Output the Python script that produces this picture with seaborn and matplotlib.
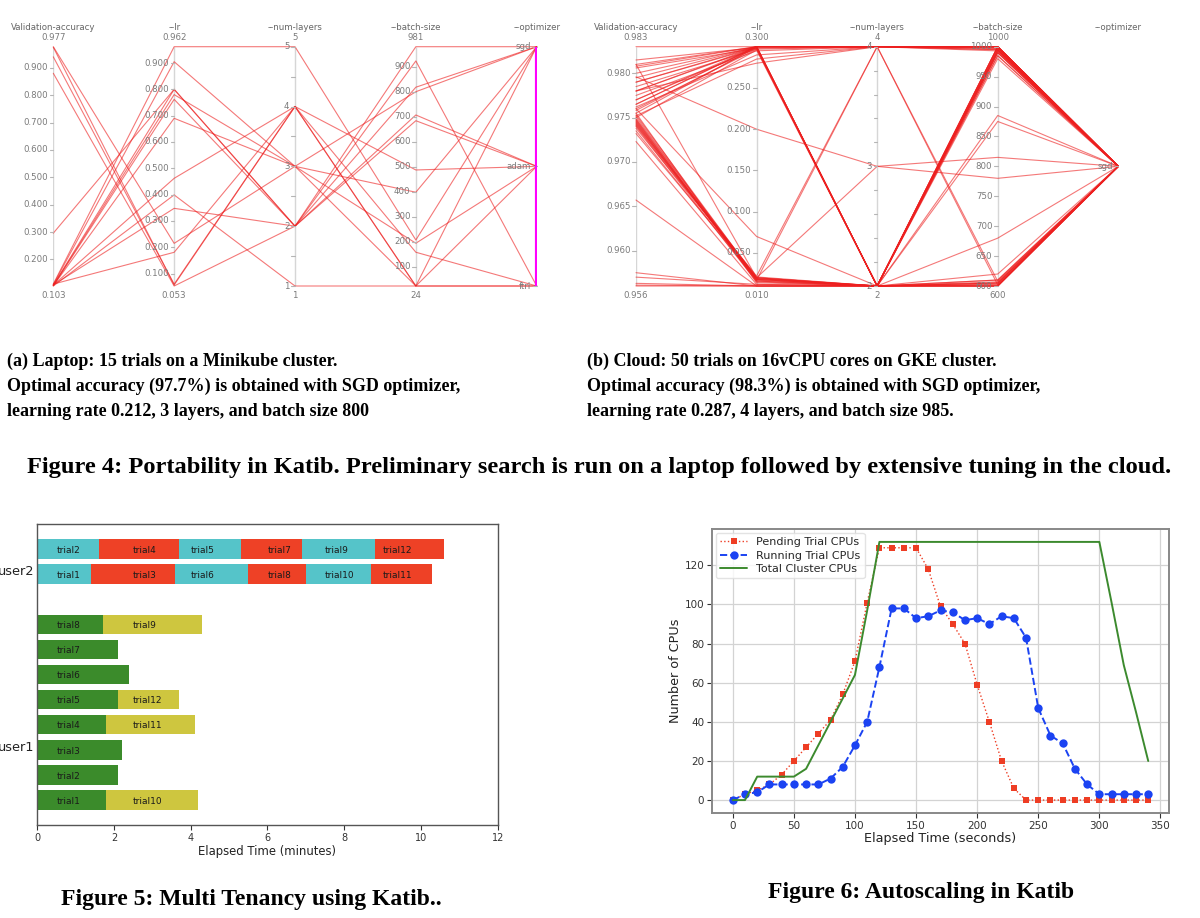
import numpy as np
import pandas as pd
import matplotlib
matplotlib.use('Agg')
import matplotlib.pyplot as plt
import seaborn as sns

sns.set_theme(style='white')
plt.rcParams['font.family'] = ['DejaVu Sans']

W, H = 1200, 918

# Figure 4 (a): laptop, 15 trials
a_acc = [0.977, 0.975, 0.940, 0.880, 0.296, 0.110, 0.108, 0.106, 0.105, 0.104,
         0.104, 0.106, 0.103, 0.107, 0.110]
a_lr = [0.215, 0.057, 0.060, 0.053, 0.800, 0.962, 0.905, 0.800, 0.780, 0.762,
        0.690, 0.462, 0.399, 0.348, 0.181]
a_layers = [3, 4, 4, 2, 2, 5, 3, 2, 3, 2, 3, 4, 1, 2, 4]
a_batch = [801, 159, 24, 924, 981, 208, 24, 685, 399, 708, 195, 488, 24, 819, 24]
a_opt = ['sgd', 'ftrl', 'adam', 'ftrl', 'sgd', 'sgd', 'ftrl', 'adam', 'sgd', 'adam',
         'adam', 'adam', 'sgd', 'sgd', 'ftrl']

# Figure 4 (b): cloud, 50 trials
b_acc = [0.983, 0.9815, 0.9810, 0.9806, 0.9800, 0.9785, 0.9780, 0.9775, 0.9770, 0.9780,
         0.9808, 0.9790, 0.9790, 0.9780, 0.9770, 0.9765, 0.9760, 0.9755, 0.9750, 0.9752,
         0.9762, 0.9751, 0.9749, 0.9748, 0.9746, 0.9745, 0.9743, 0.9742, 0.9740, 0.9738,
         0.9735, 0.9732, 0.9810, 0.9723, 0.9657, 0.9760, 0.9796, 0.9575, 0.9570, 0.9563,
         0.9561, 0.9560, 0.9753, 0.9744, 0.9755, 0.9795, 0.9765, 0.9747, 0.9741, 0.9758]
b_lr = [0.300, 0.299, 0.300, 0.298, 0.300, 0.297, 0.300, 0.295, 0.300, 0.280,
        0.300, 0.299, 0.300, 0.299, 0.298, 0.300, 0.297, 0.300, 0.296, 0.285,
        0.290, 0.018, 0.020, 0.017, 0.019, 0.016, 0.021, 0.018, 0.015, 0.022,
        0.017, 0.020, 0.020, 0.012, 0.010, 0.070, 0.200, 0.010, 0.012, 0.010,
        0.010, 0.010, 0.019, 0.018, 0.014, 0.300, 0.300, 0.016, 0.020, 0.299]
b_layers = [4, 4, 4, 4, 4, 4, 4, 4, 4, 4,
            2, 2, 2, 2, 2, 2, 2, 2, 2, 4,
            4, 2, 2, 2, 2, 2, 2, 2, 2, 4,
            4, 3, 2, 2, 2, 2, 3, 2, 2, 2,
            2, 2, 2, 2, 2, 4, 2, 2, 2, 2]
b_batch = [1000, 998, 995, 1000, 1000, 997, 1000, 993, 1000, 995,
           995, 990, 1000, 995, 985, 1000, 980, 605, 610, 602,
           608, 990, 1000, 985, 995, 605, 600, 610, 603, 998,
           1000, 815, 885, 875, 620, 680, 780, 600, 602, 605,
           600, 990, 1000, 600, 993, 1000, 600, 998, 607, 992]
b_opt = ['sgd'] * 50

# Figure 5: multi tenancy, end time (minutes) of each trial in a row
u1_names = [['trial1', 'trial10'], ['trial2'], ['trial3'], ['trial4', 'trial11'],
            ['trial5', 'trial12'], ['trial6'], ['trial7'], ['trial8', 'trial9']]
u1_ends = [[1.8, 4.2], [2.1], [2.2], [1.8, 4.1], [2.1, 3.7], [2.4], [2.1], [1.7, 4.3]]
u2_names = [['trial1', 'trial3', 'trial6', 'trial8', 'trial10', 'trial11'],
            ['trial2', 'trial4', 'trial5', 'trial7', 'trial9', 'trial12']]
u2_ends = [[1.4, 3.6, 5.5, 7.0, 8.7, 10.3],
           [1.6, 3.7, 5.3, 6.9, 8.8, 10.6]]

# Figure 6: autoscaling
t_sec = [0, 10, 20, 30, 40, 50, 60, 70, 80, 90, 100, 110, 120, 130, 140, 150, 160, 170,
         180, 190, 200, 210, 220, 230, 240, 250, 260, 270, 280, 290, 300, 310, 320, 330, 340]
pending = [0, 3, 5, 8, 13, 20, 27, 34, 41, 54, 71, 101, 129, 129, 129, 129, 118, 99,
           90, 80, 59, 40, 20, 6, 0, 0, 0, 0, 0, 0, 0, 0, 0, 0, 0]
running = [0, 3, 4, 8, 8, 8, 8, 8, 11, 17, 28, 40, 68, 98, 98, 93, 94, 97,
           96, 92, 93, 90, 94, 93, 83, 47, 33, 29, 16, 8, 3, 3, 3, 3, 3]
total = [0, 0, 12, 12, 12, 12, 16, 28, 40, 52, 64, 97, 132, 132, 132, 132, 132, 132,
         132, 132, 132, 132, 132, 132, 132, 132, 132, 132, 132, 132, 132, 101, 69, 45, 20]


def box(x0, y0, x1, y1):
    return [x0 / W, 1 - y1 / H, (x1 - x0) / W, (y1 - y0) / H]


def par_coords(ax, cols, names, fmts, ticks, minor, opt_vals, opt_levels, opt_bar):
    n = len(opt_vals)
    pos = {}
    for i, v in enumerate(cols):
        v = np.asarray(v, float)
        pos[i] = (v - v.min()) / (v.max() - v.min())
    k = len(cols)
    if len(opt_levels) > 1:
        pos[k] = [1 - opt_levels.index(o) / (len(opt_levels) - 1) for o in opt_vals]
    else:
        pos[k] = [0.5] * n
    df = pd.DataFrame(pos)
    df['trial'] = range(n)
    long = df.melt(id_vars='trial', var_name='axis', value_name='pos')
    long['axis'] = long['axis'].astype(int)
    sns.lineplot(data=long, x='axis', y='pos', units='trial', estimator=None,
                 color=(0.93, 0.12, 0.12), alpha=0.6, lw=0.8, ax=ax, legend=False)
    for ln in ax.lines:
        ln.set_clip_on(False)

    tc, lc = '#b5b5b5', '#7a7a7a'
    for i, v in enumerate(cols):
        lo, hi = min(v), max(v)
        ax.vlines(i, 0, 1, color='#d6d6d6', lw=1, zorder=0)
        for tv in ticks[i]:
            p = (tv - lo) / (hi - lo)
            ax.plot([i - 0.03, i], [p, p], color=tc, lw=0.8, clip_on=False)
            ax.text(i - 0.045, p, fmts[i] % tv, ha='right', va='center',
                    fontsize=6.2, color=lc)
        for tv in minor[i]:
            p = (tv - lo) / (hi - lo)
            ax.plot([i - 0.03, i], [p, p], color=tc, lw=0.8, clip_on=False)
        ax.text(i, 1.039, fmts[i] % hi, ha='center', va='center', fontsize=6.2, color=lc)
        ax.text(i, -0.039, fmts[i] % lo, ha='center', va='center', fontsize=6.2, color=lc)
    for i, nm in enumerate(names):
        ax.text(i, 1.082, nm, ha='center', va='center', fontsize=6.2, color='#666666')
    for lev in opt_levels:
        p = pos[k][opt_vals.index(lev)]
        ax.plot([k - 0.03, k], [p, p], color=tc, lw=0.8, clip_on=False)
        ax.text(k - 0.045, p, lev, ha='right', va='center', fontsize=6.2, color=lc)
    if opt_bar:
        ax.vlines(k, 0, 1, color='#ff00ff', lw=3, zorder=5)
    ax.set_xlim(0, k)
    ax.set_ylim(0, 1)
    ax.axis('off')


names = ['Validation-accuracy', '--lr', '--num-layers', '--batch-size', '--optimizer']
fmts = ['%.3f', '%.3f', '%d', '%d']

fig = plt.figure(figsize=(W / 100, H / 100), dpi=100)

ax_a = fig.add_axes(box(53.3, 46.7, 536.7, 286))
par_coords(ax_a, [a_acc, a_lr, a_layers, a_batch], names, fmts,
           [np.arange(0.2, 0.95, 0.1), np.arange(0.1, 0.95, 0.1), [1, 2, 3, 4, 5],
            np.arange(100, 950, 100)],
           [[], [], [1.5, 2.5, 3.5, 4.5], []],
           a_opt, ['sgd', 'adam', 'ftrl'], True)

ax_b = fig.add_axes(box(636, 46.7, 1118.3, 286))
par_coords(ax_b, [b_acc, b_lr, b_layers, b_batch], names, fmts,
           [np.arange(0.960, 0.9815, 0.005), np.arange(0.05, 0.26, 0.05), [2, 3, 4],
            np.arange(600, 1001, 50)],
           [[], [], [2.2, 2.4, 2.6, 2.8, 3.2, 3.4, 3.6, 3.8], []],
           b_opt, ['sgd'], False)

# Figure 5
ax5 = fig.add_axes(box(37.3, 524, 497.7, 825))
green, olive = '#3b8b2b', '#cec63f'
cyan, red = '#55c4c9', '#ee4126'
label_x = [0.5, 2.5, 4.0, 6.0, 7.5, 9.0]
rows = [(i, u1_names[i], u1_ends[i], [green, olive]) for i in range(8)]
rows += [(9 + i, u2_names[i], u2_ends[i], [cyan, red, cyan, red, cyan, red]) for i in range(2)]
for y, nms, ends, cols in rows:
    starts = [0] + ends[:-1]
    widths = [e - s for s, e in zip(starts, ends)]
    ax5.barh([y] * len(ends), widths, left=starts, height=0.78,
             color=cols[:len(ends)], edgecolor='none')
    for nm, lx in zip(nms, label_x):
        ax5.text(lx, y - 0.05, nm, fontsize=6.5, va='center', color='#1a1a1a')
ax5.set_xlim(0, 12)
ax5.set_ylim(-1, 11)
ax5.set_xticks(range(0, 13, 2))
ax5.set_yticks([2.15, 9.15], ['user1', 'user2'])
ax5.tick_params(axis='x', labelsize=7, length=3.5, width=0.8, colors='#333333', pad=2, bottom=True)
ax5.tick_params(axis='y', labelsize=9.3, length=0, pad=2, colors='#222222')
ax5.set_xlabel('Elapsed Time (minutes)', fontsize=8.4, color='#222222', labelpad=2)
for s in ax5.spines.values():
    s.set_color('#555555')
    s.set_linewidth(1)

# Figure 6
ax6 = fig.add_axes(box(712, 529, 1169, 813))
sns.lineplot(x=t_sec, y=pending, ax=ax6, color='#ee3d24', linestyle=':', lw=1,
             marker='s', markersize=5, markeredgewidth=0, label='Pending Trial CPUs')
sns.lineplot(x=t_sec, y=running, ax=ax6, color='#1b43f2', linestyle='--', lw=1.4,
             marker='o', markersize=6, markeredgewidth=0, label='Running Trial CPUs')
sns.lineplot(x=t_sec, y=total, ax=ax6, color='#3c8a2e', lw=1.4, label='Total Cluster CPUs')
ax6.set_xticks(range(0, 351, 50))
ax6.set_yticks(range(0, 121, 20))
ax6.grid(True, color='#d3d3d3', lw=0.9)
ax6.tick_params(labelsize=7.5, length=3.5, width=0.8, colors='#333333', pad=2,
                bottom=True, left=True)
ax6.set_xlabel('Elapsed Time (seconds)', fontsize=9.2, color='#222222', labelpad=1)
ax6.set_ylabel('Number of CPUs', fontsize=9.2, color='#222222', labelpad=2)
for s in ax6.spines.values():
    s.set_color('#888888')
    s.set_linewidth(1.4)
leg = ax6.legend(loc='upper left', fontsize=8, frameon=True, borderaxespad=0.35,
                 handlelength=2.4, labelspacing=0.3, borderpad=0.4)
leg.get_frame().set_edgecolor('#dddddd')

# captions
cap = dict(family='Liberation Serif', weight='bold', color='black', va='center')
fig.text(7 / W, 1 - 361.7 / H, '(a) Laptop: 15 trials on a Minikube cluster.', fontsize=13, **cap)
fig.text(7 / W, 1 - 386.7 / H, 'Optimal accuracy (97.7%) is obtained with SGD optimizer,', fontsize=13, **cap)
fig.text(7 / W, 1 - 411.7 / H, 'learning rate 0.212, 3 layers, and batch size 800', fontsize=13, **cap)
fig.text(587 / W, 1 - 361.7 / H, '(b) Cloud: 50 trials on 16vCPU cores on GKE cluster.', fontsize=13, **cap)
fig.text(587 / W, 1 - 386.7 / H, 'Optimal accuracy (98.3%) is obtained with SGD optimizer,', fontsize=13, **cap)
fig.text(587 / W, 1 - 411.7 / H, 'learning rate 0.287, 4 layers, and batch size 985.', fontsize=13, **cap)
fig.text(599 / W, 1 - 467 / H,
         'Figure 4: Portability in Katib. Preliminary search is run on a laptop followed by extensive tuning in the cloud.',
         fontsize=17.6, ha='center', **cap)
fig.text(251 / W, 1 - 900 / H, 'Figure 5: Multi Tenancy using Katib..', fontsize=17, ha='center', **cap)
fig.text(921 / W, 1 - 892.7 / H, 'Figure 6: Autoscaling in Katib', fontsize=17, ha='center', **cap)

fig.savefig('out.png', dpi=100, facecolor='white')
